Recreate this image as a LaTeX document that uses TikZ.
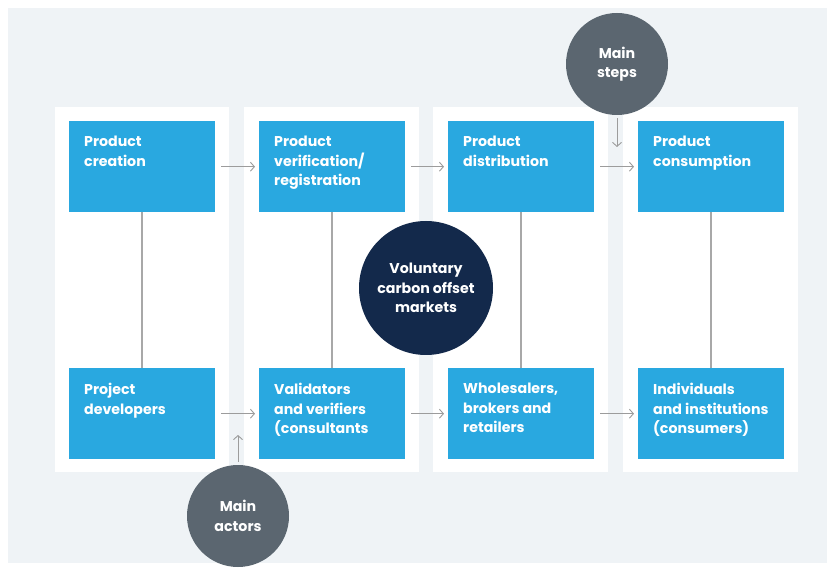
\documentclass[tikz,border=0pt]{standalone}
\usepackage{fontspec}
\setmainfont{Poppins}
\usetikzlibrary{arrows.meta,positioning}
\definecolor{bgc}{HTML}{EFF3F6}
\definecolor{boxblue}{HTML}{29A8E0}
\definecolor{navy}{HTML}{13294B}
\definecolor{slate}{HTML}{5B6670}
\definecolor{linec}{HTML}{A8A8A8}
\definecolor{arrc}{HTML}{9C9C9C}
\tikzset{
  panel/.style={fill=white, draw=none},
  bluebox/.style={fill=boxblue, draw=none, minimum width=146pt, minimum height=91pt, anchor=north west, inner sep=0pt},
  boxtext/.style={anchor=north west, text=white, font=\bfseries\fontsize{14.2}{19.5}\selectfont, align=left, inner sep=0pt},
  circ/.style={circle, draw=none, text=white, font=\bfseries\fontsize{14.2}{19.5}\selectfont, align=center, inner sep=0pt},
  vline/.style={draw=linec, line width=1.5pt},
  flow/.style={draw=arrc, line width=0.9pt, -{Straight Barb[length=4pt,width=9pt]}},
}
\begin{document}
\begin{tikzpicture}[x=1pt,y=-1pt]
\useasboundingbox (0,0) rectangle (833,569);
\fill[white] (0,0) rectangle (833,569);
\fill[bgc] (8,8) rectangle (827,563);
% panels
\fill[panel] (55,107) rectangle (229,472);
\fill[panel] (244,107) rectangle (419,472);
\fill[panel] (433,107) rectangle (608,472);
\fill[panel] (623,107) rectangle (798,472);
% top boxes
\node[bluebox] (t1) at (69,121) {};
\node[bluebox] (t2) at (259,121) {};
\node[bluebox] (t3) at (448,121) {};
\node[bluebox] (t4) at (638,121) {};
% bottom boxes
\node[bluebox] (b1) at (69,368) {};
\node[bluebox] (b2) at (259,368) {};
\node[bluebox] (b3) at (448,368) {};
\node[bluebox] (b4) at (638,368) {};
% texts
\node[boxtext] (tt1) at ([xshift=15pt,yshift=-15pt]t1.north west) {Product\\creation};
\node[boxtext] (tt2) at ([xshift=15pt,yshift=-15pt]t2.north west) {Product\\verification/\\registration};
\node[boxtext] (tt3) at ([xshift=15pt,yshift=-15pt]t3.north west) {Product\\distribution};
\node[boxtext] (tt4) at ([xshift=15pt,yshift=-15pt]t4.north west) {Product\\consumption};
\node[boxtext] (bt1) at ([xshift=15pt,yshift=-15pt]b1.north west) {Project\\developers};
\node[boxtext] (bt2) at ([xshift=15pt,yshift=-15pt]b2.north west) {Validators\\and verifiers\\(consultants};
\node[boxtext] (bt3) at ([xshift=15pt,yshift=-15pt]b3.north west) {Wholesalers,\\brokers and\\retailers};
\node[boxtext] (bt4) at ([xshift=15pt,yshift=-15pt]b4.north west) {Individuals\\and institutions\\(consumers)};
% vertical links
\draw[vline] (t1.south) -- (b1.north);
\draw[vline] (t2.south) -- (b2.north);
\draw[vline] (t3.south) -- (b3.north);
\draw[vline] (t4.south) -- (b4.north);
% flow arrows
\draw[flow, shorten <=6pt, shorten >=4pt] (t1.east) -- (t2.west);
\draw[flow, shorten <=6pt, shorten >=4pt] (t2.east) -- (t3.west);
\draw[flow, shorten <=6pt, shorten >=4pt] (t3.east) -- (t4.west);
\draw[flow, shorten <=6pt, shorten >=4pt] (b1.east) -- (b2.west);
\draw[flow, shorten <=6pt, shorten >=4pt] (b2.east) -- (b3.west);
\draw[flow, shorten <=6pt, shorten >=4pt] (b3.east) -- (b4.west);
% circles
\node[circ, fill=navy, minimum size=134pt] (vol) at (426,288) {Voluntary\\carbon offset\\markets};
\node[circ, fill=slate, minimum size=102pt] (steps) at (617,64) {Main\\steps};
\node[circ, fill=slate, minimum size=102pt] (actors) at (238,516) {Main\\actors};
\coordinate (stepsend) at (617,147);
\coordinate (actorsend) at (238,435);
\draw[flow, shorten <=3pt] (steps.south) -- (stepsend);
\draw[flow, shorten <=3pt] (actors.north) -- (actorsend);
\end{tikzpicture}
\end{document}
